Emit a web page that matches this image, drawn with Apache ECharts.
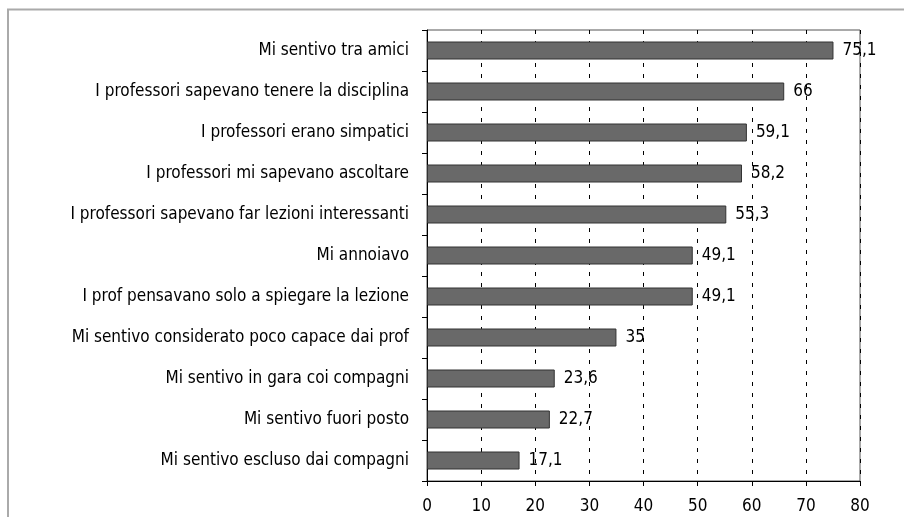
<!DOCTYPE html>
<html>
<head>
<meta charset="utf-8">
<script src="https://cdn.jsdelivr.net/npm/echarts@6/dist/echarts.min.js"></script>
<style>html,body{margin:0;padding:0;background:#fff;}#c{width:904px;height:517px;}</style>
</head>
<body>
<div id="c"></div>
<script>
const categories = [
  "Mi sentivo tra amici",
  "I professori sapevano tenere la disciplina",
  "I professori erano simpatici",
  "I professori mi sapevano ascoltare",
  "I professori sapevano far lezioni interessanti",
  "Mi annoiavo",
  "I prof pensavano solo a spiegare la lezione",
  "Mi sentivo considerato poco capace dai prof",
  "Mi sentivo in gara coi compagni",
  "Mi sentivo fuori posto",
  "Mi sentivo escluso dai compagni"
];
const values = [75.1, 66, 59.1, 58.2, 55.3, 49.1, 49.1, 35, 23.6, 22.7, 17.1];
const xTicks = [0, 10, 20, 30, 40, 50, 60, 70, 80];

const FONT = '"DejaVu Sans Condensed", "DejaVu Sans", sans-serif';
const chart = echarts.init(document.getElementById('c'));
chart.setOption({
  animation: false,
  backgroundColor: '#fff',
  graphic: [{
    type: 'rect',
    shape: { x: 8, y: 9.5, width: 1000, height: 1000 },
    style: { fill: 'none', stroke: '#aaaaaa', lineWidth: 2 },
    silent: true
  }],
  grid: {
    left: 427, right: 44, top: 30, bottom: 36,
    show: true, borderColor: '#555', borderWidth: 1, backgroundColor: 'transparent'
  },
  xAxis: {
    type: 'value',
    min: xTicks[0], max: xTicks[xTicks.length - 1], interval: 10,
    axisLine: { show: true, lineStyle: { color: '#000', width: 1 } },
    axisTick: { show: true, length: 5, lineStyle: { color: '#000' } },
    axisLabel: { margin: 17, fontFamily: FONT, fontSize: 17, color: '#000' },
    splitLine: { show: true, lineStyle: { color: '#000', type: [4, 7], width: 1 } }
  },
  yAxis: {
    type: 'category',
    data: categories,
    inverse: true,
    axisLine: { show: true, lineStyle: { color: '#000', width: 1 } },
    axisTick: { show: true, length: 5, lineStyle: { color: '#000' } },
    axisLabel: { margin: 18, fontFamily: FONT, fontSize: 17, color: '#000' },
    splitLine: { show: false }
  },
  series: [{
    type: 'bar',
    data: values,
    barWidth: 18,
    itemStyle: { color: '#696969', borderColor: '#333', borderWidth: 1 },
    label: {
      show: true, position: 'right', distance: 9,
      fontFamily: FONT, fontSize: 17, color: '#000',
      formatter: p => String(p.value).replace('.', ',')
    }
  }]
});
</script>
</body>
</html>
